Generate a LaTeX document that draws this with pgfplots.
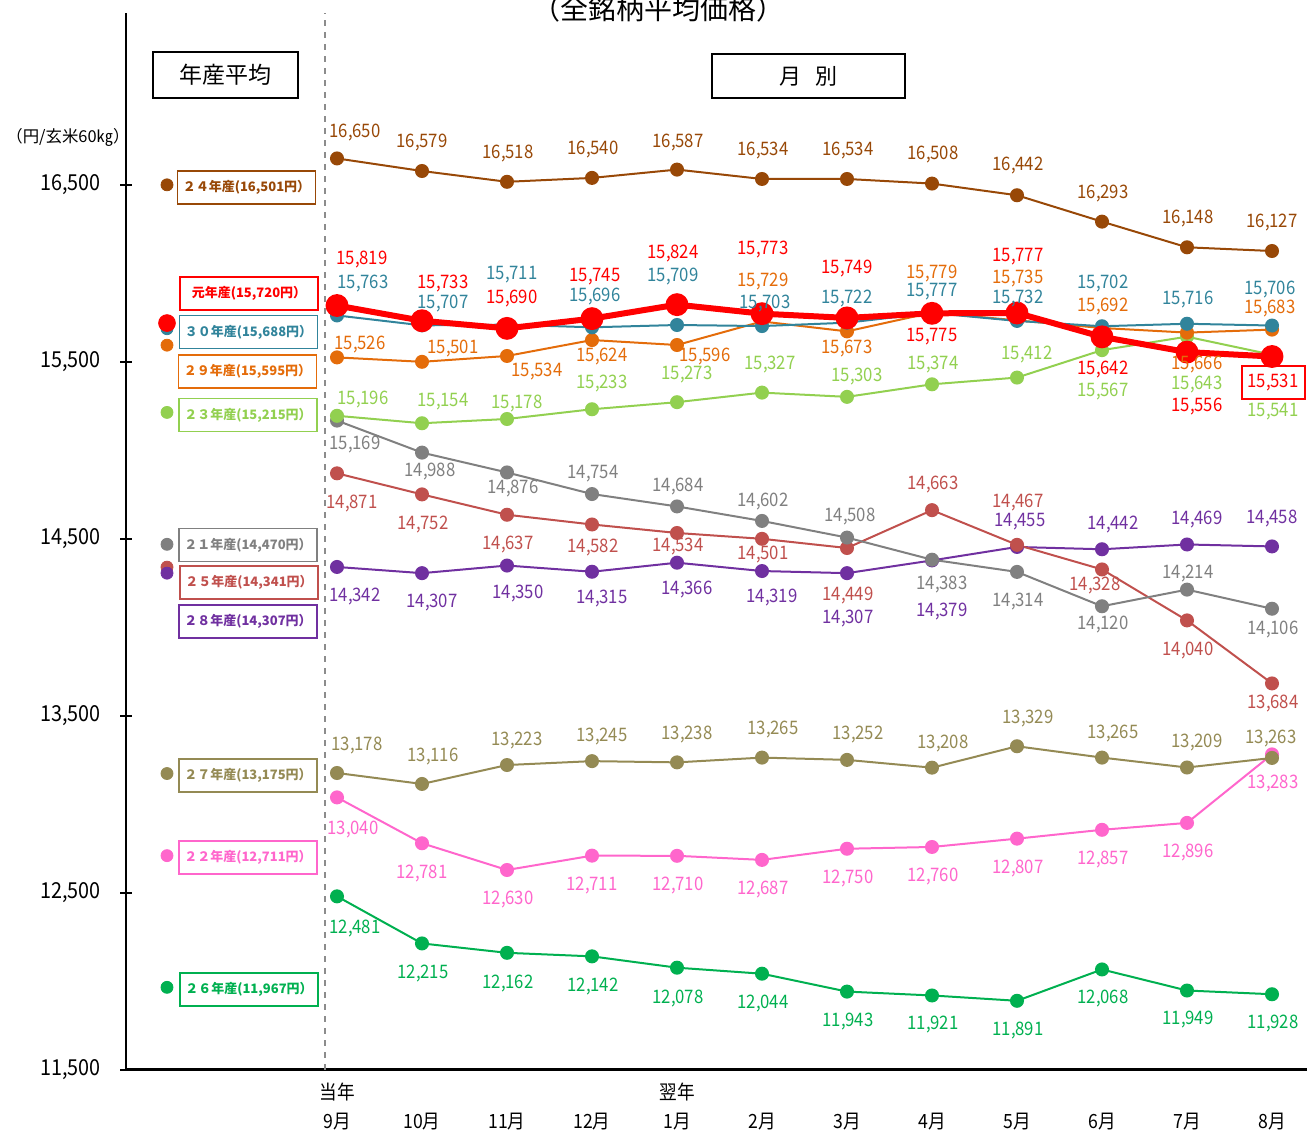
\documentclass[border=0pt]{standalone}
\usepackage{pgfplots}
\pgfplotsset{compat=1.18}
\usepackage{pgfplotstable}
\usepackage{fontspec}
\setmainfont{Noto Sans CJK JP}
\newfontfamily\nf[FakeStretch=0.9]{Noto Sans CJK JP}
\definecolor{cA}{HTML}{984807}% 24
\definecolor{cR}{HTML}{FF0000}% R1
\definecolor{cT}{HTML}{31849B}% 30
\definecolor{cO}{HTML}{E46C0A}% 29
\definecolor{cL}{HTML}{92D050}% 23
\definecolor{cG}{HTML}{808080}% 21
\definecolor{cI}{HTML}{C0504D}% 25
\definecolor{cP}{HTML}{7030A0}% 28
\definecolor{cV}{HTML}{948A54}% 27
\definecolor{cK}{HTML}{FF66CC}% 22
\definecolor{cN}{HTML}{00B050}% 26

\pgfplotstableread{
m  y24   y1    y30   y29   y23   y21   y25   y28   y27   y22   y26
0  16650 15819 15763 15526 15196 15169 14871 14342 13178 13040 12481
1  16579 15733 15707 15501 15154 14988 14752 14307 13116 12781 12215
2  16518 15690 15711 15534 15178 14876 14637 14350 13223 12630 12162
3  16540 15745 15696 15624 15233 14754 14582 14315 13245 12711 12142
4  16587 15824 15709 15596 15273 14684 14534 14366 13238 12710 12078
5  16534 15773 15703 15729 15327 14602 14501 14319 13265 12687 12044
6  16534 15749 15722 15673 15303 14508 14449 14307 13252 12750 11943
7  16508 15775 15777 15779 15374 14383 14663 14379 13208 12760 11921
8  16442 15777 15732 15735 15412 14314 14467 14455 13329 12807 11891
9  16293 15642 15702 15692 15567 14120 14328 14442 13265 12857 12068
10 16148 15556 15716 15666 15643 14214 14040 14469 13209 12896 11949
11 16127 15531 15706 15683 15541 14106 13684 14458 13263 13283 11928
}\data

\newcommand\lbfont{\nf\fontsize{9.3}{10}\selectfont}
\newcommand\bxfont{\fontsize{6.5}{7}\selectfont\bfseries}
\newcommand\lb[4]{\node[text=#1,font=\lbfont,inner sep=0pt] at (#2,#3) {#4};}
\newcommand\bx[4]{\node[draw=#1,line width=0.8pt,text=#1,minimum width=69pt,minimum height=16.5pt,inner sep=0pt,font=\bxfont] at (#2,#3) {#4};}

\begin{document}
\begin{tikzpicture}
\begin{axis}[
  scale only axis, width=590.5pt, height=528.345pt,
  xmin=-2.48235, xmax=11.41176, ymin=11500, ymax=17470,
  axis x line*=bottom, axis y line*=left,
  y axis line style={line width=1pt,-},
  x axis line style={line width=1.5pt,-},
  xtick=\empty,
  ytick={11500,12500,13500,14500,15500,16500},
  scaled y ticks=false,
  tick align=center, major tick length=6pt,
  tick style={line width=1pt,black},
  /pgf/number format/1000 sep={,},
  /pgf/number format/assume math mode=true,
  y tick label style={font=\nf\fontsize{11}{12}\selectfont, xshift=-6pt},
  clip=false,
]
\addplot[cN,line width=1pt,mark=*,mark size=3pt] table[x=m,y=y26]{\data};
\addplot[cK,line width=1pt,mark=*,mark size=3pt] table[x=m,y=y22]{\data};
\addplot[cV,line width=1pt,mark=*,mark size=3pt] table[x=m,y=y27]{\data};
\addplot[cP,line width=1pt,mark=*,mark size=3pt] table[x=m,y=y28]{\data};
\addplot[cI,line width=1pt,mark=*,mark size=3pt] table[x=m,y=y25]{\data};
\addplot[cG,line width=1pt,mark=*,mark size=3pt] table[x=m,y=y21]{\data};
\addplot[cL,line width=1pt,mark=*,mark size=3pt] table[x=m,y=y23]{\data};
\addplot[cO,line width=1pt,mark=*,mark size=3pt] table[x=m,y=y29]{\data};
\addplot[cT,line width=1pt,mark=*,mark size=3pt] table[x=m,y=y30]{\data};
\addplot[cA,line width=1pt,mark=*,mark size=3pt] table[x=m,y=y24]{\data};
\addplot[cR,line width=3pt,mark=*,mark size=4.2pt] table[x=m,y=y1]{\data};
% annual averages
\addplot[only marks,mark=*,mark size=3pt,cA] coordinates {(-2,16501)};
\addplot[only marks,mark=*,mark size=3pt,cT] coordinates {(-2,15688)};
\addplot[only marks,mark=*,mark size=3pt,cO] coordinates {(-2,15595)};
\addplot[only marks,mark=*,mark size=3pt,cL] coordinates {(-2,15215)};
\addplot[only marks,mark=*,mark size=3pt,cG] coordinates {(-2,14470)};
\addplot[only marks,mark=*,mark size=3pt,cI] coordinates {(-2,14341)};
\addplot[only marks,mark=*,mark size=3pt,cP] coordinates {(-2,14307)};
\addplot[only marks,mark=*,mark size=3pt,cV] coordinates {(-2,13175)};
\addplot[only marks,mark=*,mark size=3pt,cK] coordinates {(-2,12711)};
\addplot[only marks,mark=*,mark size=3pt,cN] coordinates {(-2,11967)};
\addplot[only marks,mark=*,mark size=4.2pt,cR] coordinates {(-2,15720)};
\draw[black!45,dashed,line width=0.6pt] (axis cs:-0.14118,11500) -- (axis cs:-0.14118,17470);
\coordinate (O) at (axis cs:-3.96471,17533.9);
\end{axis}
\pgfresetboundingbox
\begin{scope}[shift={(O)},x=0.5pt,y=-0.5pt]
\useasboundingbox (0,-2) rectangle (1307,1129);
% title and frames
\node[font=\fontsize{14}{14}\selectfont] at (658,7) {（全銘柄平均価格）};
\node[draw=black,line width=0.8pt,minimum width=72.5pt,minimum height=23pt,inner sep=0pt,font=\fontsize{11.5}{12}\selectfont] at (225.5,73) {年産平均};
\node[draw=black,line width=0.8pt,minimum width=96.5pt,minimum height=22pt,inner sep=0pt,font=\fontsize{11}{12}\selectfont] at (808.5,74) {月\hspace{0.6em}別};
\node[font=\fontsize{8.2}{9}\selectfont,anchor=west,inner sep=0pt] at (6,135) {（円/玄米60㎏）};
% x labels
\foreach \xx/\tt in {337/9月,422/10月,507/11月,592/12月,677/1月,762/2月,847/3月,932/4月,1017/5月,1102/6月,1187/7月,1272/8月}{
  \node[font=\nf\fontsize{9.8}{10}\selectfont] at (\xx,1120) {\tt};}
\node[font=\nf\fontsize{9.8}{10}\selectfont] at (337,1090) {当年};
\node[font=\nf\fontsize{9.8}{10}\selectfont] at (677,1090) {翌年};
% annual boxes
\bx{cA}{246.5}{185.5}{２４年産(16,501円）}
\bx{cR}{249}{291.5}{元年産(15,720円）}
\bx{cT}{248.5}{330}{３０年産(15,688円）}
\bx{cO}{247.5}{369.5}{２９年産(15,595円）}
\bx{cL}{248}{413}{２３年産(15,215円）}
\bx{cG}{248}{543}{２１年産(14,470円）}
\bx{cI}{249}{580.5}{２５年産(14,341円）}
\bx{cP}{248}{619.5}{２８年産(14,307円）}
\bx{cV}{248}{773.5}{２７年産(13,175円）}
\bx{cK}{248}{855.5}{２２年産(12,711円）}
\bx{cN}{249}{987.5}{２６年産(11,967円）}
% 24
\lb{cA}{355}{131}{16,650}\lb{cA}{422}{141}{16,579}\lb{cA}{508}{152}{16,518}\lb{cA}{593}{148}{16,540}
\lb{cA}{678}{141}{16,587}\lb{cA}{763}{149}{16,534}\lb{cA}{848}{149}{16,534}\lb{cA}{933}{153}{16,508}
\lb{cA}{1018}{164}{16,442}\lb{cA}{1103}{192}{16,293}\lb{cA}{1188}{217}{16,148}\lb{cA}{1272}{221}{16,127}
% R1
\lb{cR}{362}{258}{15,819}\lb{cR}{443}{282}{15,733}\lb{cR}{512}{297}{15,690}\lb{cR}{595}{275}{15,745}
\lb{cR}{673}{252}{15,824}\lb{cR}{763}{248}{15,773}\lb{cR}{847}{267}{15,749}\lb{cR}{932}{335}{15,775}
\lb{cR}{1018}{255}{15,777}\lb{cR}{1103}{368}{15,642}\lb{cR}{1197}{405}{15,556}\lb{cR}{1273}{381}{15,531}
\draw[cR,line width=0.7pt] (1242,364) rectangle (1305,397);
% 30
\lb{cT}{363}{282}{15,763}\lb{cT}{443}{302}{15,707}\lb{cT}{512}{273}{15,711}\lb{cT}{595}{295}{15,696}
\lb{cT}{673}{275}{15,709}\lb{cT}{765}{302}{15,703}\lb{cT}{847}{297}{15,722}\lb{cT}{932}{290}{15,777}
\lb{cT}{1018}{297}{15,732}\lb{cT}{1103}{282}{15,702}\lb{cT}{1188}{298}{15,716}\lb{cT}{1270}{288}{15,706}
% 29
\lb{cO}{360}{343}{15,526}\lb{cO}{453}{347}{15,501}\lb{cO}{537}{370}{15,534}\lb{cO}{602}{355}{15,624}
\lb{cO}{705}{355}{15,596}\lb{cO}{763}{280}{15,729}\lb{cO}{847}{347}{15,673}\lb{cO}{932}{272}{15,779}
\lb{cO}{1018}{277}{15,735}\lb{cO}{1103}{305}{15,692}\lb{cO}{1197}{363}{15,666}\lb{cO}{1270}{307}{15,683}
% 23
\lb{cL}{363}{398}{15,196}\lb{cL}{443}{400}{15,154}\lb{cL}{517}{402}{15,178}\lb{cL}{602}{382}{15,233}
\lb{cL}{687}{373}{15,273}\lb{cL}{770}{363}{15,327}\lb{cL}{857}{375}{15,303}\lb{cL}{933}{363}{15,374}
\lb{cL}{1027}{353}{15,412}\lb{cL}{1103}{390}{15,567}\lb{cL}{1197}{383}{15,643}\lb{cL}{1273}{410}{15,541}
% 21
\lb{cG}{355}{443}{15,169}\lb{cG}{430}{470}{14,988}\lb{cG}{513}{487}{14,876}\lb{cG}{593}{472}{14,754}
\lb{cG}{678}{485}{14,684}\lb{cG}{763}{500}{14,602}\lb{cG}{850}{515}{14,508}\lb{cG}{942}{583}{14,383}
\lb{cG}{1018}{600}{14,314}\lb{cG}{1103}{623}{14,120}\lb{cG}{1188}{572}{14,214}\lb{cG}{1273}{628}{14,106}
% 25
\lb{cI}{352}{502}{14,871}\lb{cI}{423}{523}{14,752}\lb{cI}{508}{543}{14,637}\lb{cI}{593}{546}{14,582}
\lb{cI}{678}{545}{14,534}\lb{cI}{763}{553}{14,501}\lb{cI}{848}{594}{14,449}\lb{cI}{933}{483}{14,663}
\lb{cI}{1018}{501}{14,467}\lb{cI}{1095}{584}{14,328}\lb{cI}{1188}{649}{14,040}\lb{cI}{1273}{702}{13,684}
% 28
\lb{cP}{355}{595}{14,342}\lb{cP}{432}{601}{14,307}\lb{cP}{518}{592}{14,350}\lb{cP}{602}{597}{14,315}
\lb{cP}{687}{588}{14,366}\lb{cP}{772}{596}{14,319}\lb{cP}{848}{617}{14,307}\lb{cP}{942}{610}{14,379}
\lb{cP}{1020}{520}{14,455}\lb{cP}{1113}{523}{14,442}\lb{cP}{1197}{518}{14,469}\lb{cP}{1272}{517}{14,458}
% 27
\lb{cV}{357}{744}{13,178}\lb{cV}{433}{755}{13,116}\lb{cV}{517}{739}{13,223}\lb{cV}{602}{735}{13,245}
\lb{cV}{687}{733}{13,238}\lb{cV}{773}{728}{13,265}\lb{cV}{858}{733}{13,252}\lb{cV}{943}{742}{13,208}
\lb{cV}{1028}{717}{13,329}\lb{cV}{1113}{732}{13,265}\lb{cV}{1197}{741}{13,209}\lb{cV}{1271}{737}{13,263}
% 22
\lb{cK}{353}{828}{13,040}\lb{cK}{422}{872}{12,781}\lb{cK}{508}{898}{12,630}\lb{cK}{592}{884}{12,711}
\lb{cK}{678}{884}{12,710}\lb{cK}{763}{888}{12,687}\lb{cK}{848}{877}{12,750}\lb{cK}{933}{875}{12,760}
\lb{cK}{1018}{867}{12,807}\lb{cK}{1103}{858}{12,857}\lb{cK}{1188}{851}{12,896}\lb{cK}{1273}{782}{13,283}
% 26
\lb{cN}{355}{927}{12,481}\lb{cN}{423}{972}{12,215}\lb{cN}{508}{982}{12,162}\lb{cN}{593}{985}{12,142}
\lb{cN}{678}{997}{12,078}\lb{cN}{763}{1002}{12,044}\lb{cN}{848}{1020}{11,943}\lb{cN}{933}{1023}{11,921}
\lb{cN}{1018}{1029}{11,891}\lb{cN}{1103}{997}{12,068}\lb{cN}{1188}{1018}{11,949}\lb{cN}{1273}{1022}{11,928}
\end{scope}
\end{tikzpicture}
\end{document}
